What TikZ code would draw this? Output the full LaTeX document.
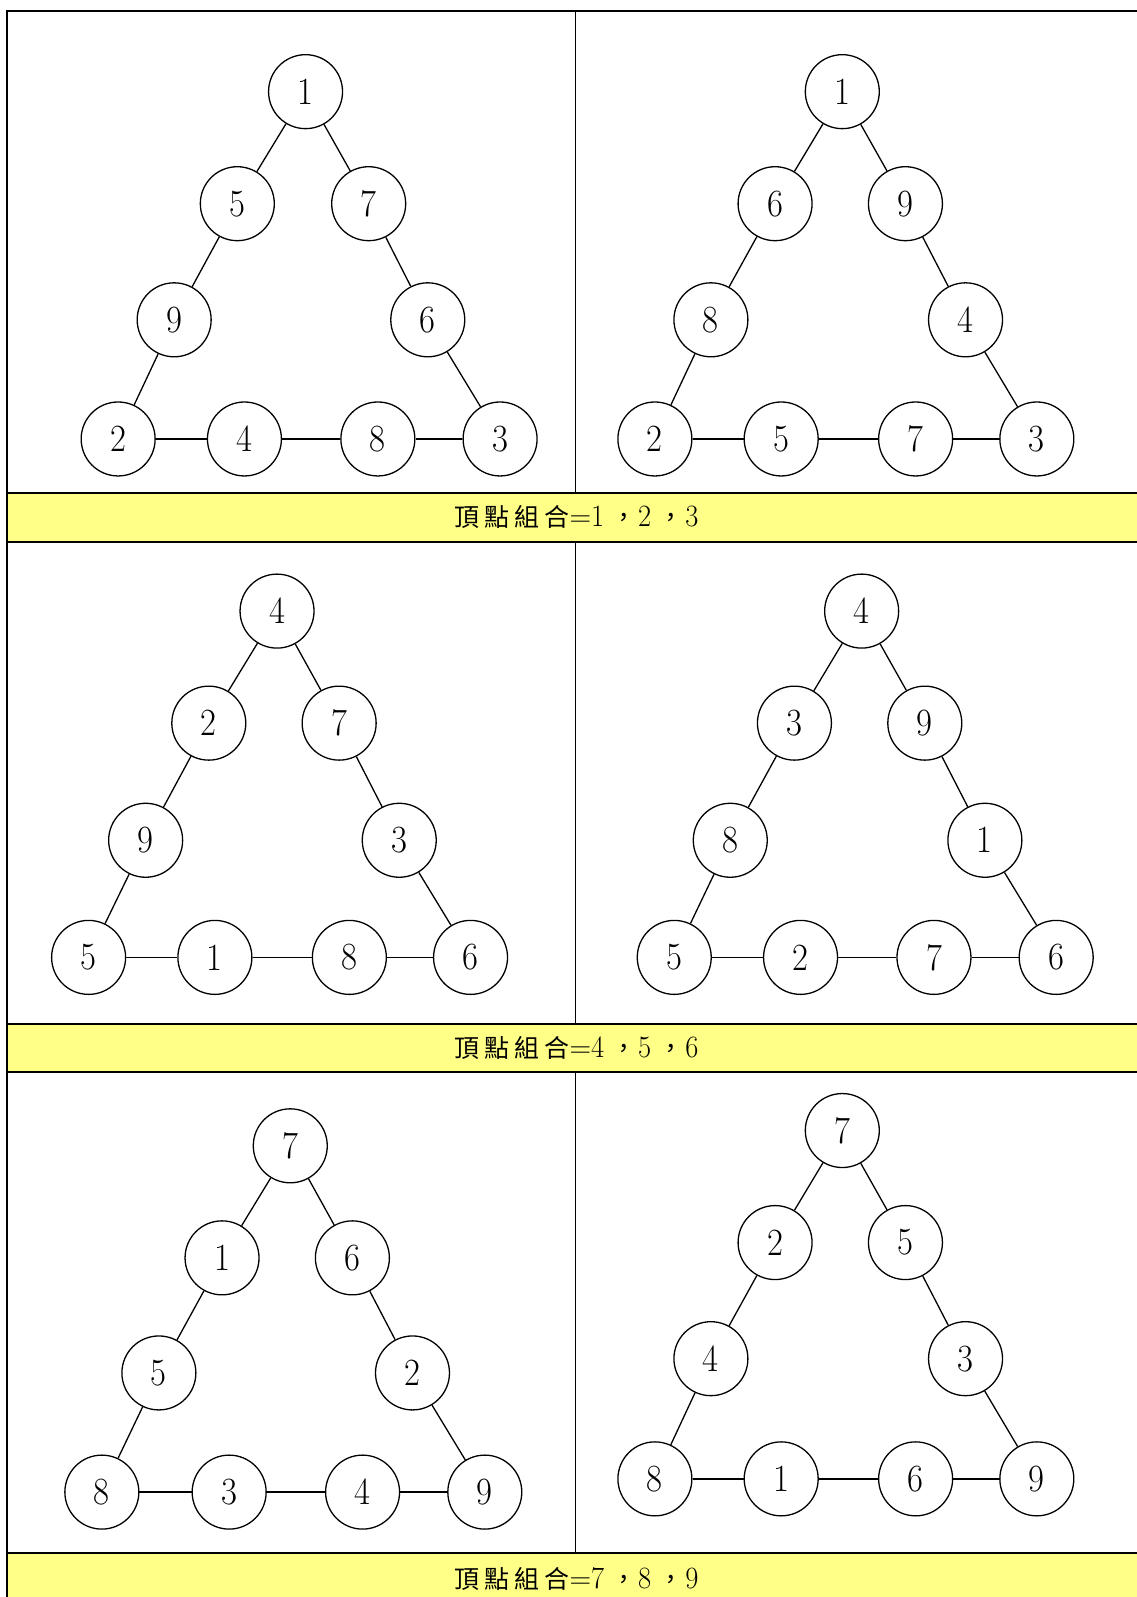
\documentclass[tikz,border=0pt]{standalone}
\usepackage{fontspec}
\newfontfamily\cjk{Noto Sans CJK TC}
\definecolor{band}{RGB}{255,255,136}
\newcommand\dgt[1]{\scalebox{0.9}[1]{#1}}
\newcommand\bdg[1]{{\rmfamily\fontsize{31}{31}\selectfont\scalebox{0.92}[1]{#1}}}
\newcommand\hz[1]{#1\hspace{5pt}}
\newcommand\bandlabel[3]{\hz{頂}\hz{點}\hz{組}合{\rmfamily\fontsize{30}{30}\selectfont=}\bdg{#1}\hspace{7pt}，\hspace{2pt}\bdg{#2}\hspace{7pt}，\hspace{2pt}\bdg{#3}}
\tikzset{
  circ/.style={circle,draw,line width=1.3pt,minimum size=74pt,inner sep=0pt,fill=white,font=\fontsize{38.5}{38.5}\selectfont},
  edge/.style={line width=1.3pt},
  grid/.style={line width=2pt},
  bandtext/.style={font=\cjk\fontsize{25}{25}\selectfont,inner sep=0pt}
}
\begin{document}
\begin{tikzpicture}[x=1.01882pt,y=-1.01882pt]
\useasboundingbox (0,0) rectangle (1116,1568);
% yellow bands
\fill[band] (7,484) rectangle (1130,532);
\fill[band] (7,1005) rectangle (1130,1053);
\fill[band] (7,1525) rectangle (1130,1580);
% table lines
\draw[grid] (1130,11) -- (7,11) -- (7,1580);
\draw[grid] (7,484) -- (1130,484);
\draw[grid] (7,532) -- (1130,532);
\draw[grid] (7,1005) -- (1130,1005);
\draw[grid] (7,1053) -- (1130,1053);
\draw[grid] (7,1525) -- (1130,1525);
\draw[line width=1.6pt] (565,11) -- (565,484);
\draw[line width=1.6pt] (565,532) -- (565,1005);
\draw[line width=1.6pt] (565,1053) -- (565,1525);
% band texts
\node[bandtext] (t1) at (566,508) {\bandlabel{1}{2}{3}};
\node[bandtext] (t2) at (566,1029) {\bandlabel{4}{5}{6}};
\node[bandtext] (t3) at (566,1550) {\bandlabel{7}{8}{9}};
% nodes: index 1 top, 2 left-upper, 3 right-upper, 4 left-lower, 5 right-lower, 6..9 bottom row
\foreach \n/\x/\y/\t in {
  A1/300/90/1, A2/233/200/5, A3/362/200/7, A4/171/314/9, A5/420/314/6, A6/116/431/2, A7/240/431/4, A8/371/431/8, A9/491/431/3,
  B1/827/90/1, B2/761/200/6, B3/889/200/9, B4/698/314/8, B5/948/314/4, B6/643/431/2, B7/767/431/5, B8/899/431/7, B9/1018/431/3,
  C1/272/600/4, C2/205/710/2, C3/333/710/7, C4/143/825/9, C5/392/825/3, C6/87/940/5, C7/211/940/1, C8/343/940/8, C9/462/940/6,
  D1/846/600/4, D2/780/710/3, D3/908/710/9, D4/717/825/8, D5/967/825/1, D6/662/940/5, D7/786/940/2, D8/917/940/7, D9/1037/940/6,
  E1/285/1125/7, E2/218/1235/1, E3/346/1235/6, E4/156/1348/5, E5/405/1348/2, E6/100/1465/8, E7/225/1465/3, E8/356/1465/4, E9/476/1465/9,
  F1/827/1110/7, F2/761/1220/2, F3/889/1220/5, F4/698/1334/4, F5/948/1334/3, F6/643/1452/8, F7/767/1452/1, F8/899/1452/6, F9/1018/1452/9}
  \node[circ] (\n) at (\x,\y) {\dgt{\t}};
\foreach \p in {A,B,C,D,E,F}
  \foreach \a/\b in {1/2,2/4,4/6,1/3,3/5,5/9,6/7,7/8,8/9}
    \draw[edge] (\p\a) -- (\p\b);
\end{tikzpicture}
\end{document}
